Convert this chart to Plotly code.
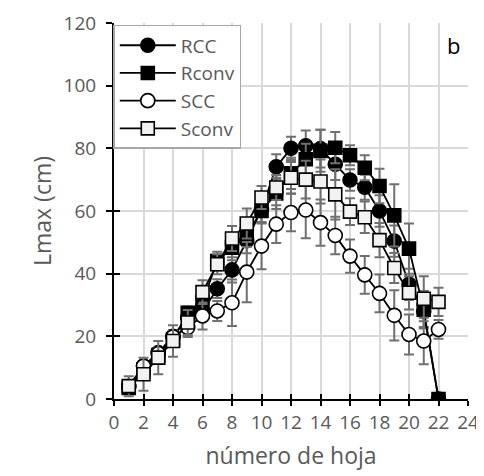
import plotly.graph_objects as go

leaf = list(range(1, 23))

rcc = [4, 10.5, 14.8, 20, 26, 28, 35.2, 41.2, 50.5, 60.5, 74.1, 80, 80.8, 79.9, 74.9, 69.9, 67.6, 60, 50.4, 36.6, 28, 0]
rcc_err = [1, 1, 1.5, 2, 2, 3, 3, 4, 4, 4, 4, 3.7, 4.9, 6, 5, 3.4, 4, 5, 5, 5, 5, 0]

rconv = [3.5, 9.5, 14, 19, 27.5, 31, 44, 48.3, 52.5, 60, 65.6, 72, 76.5, 79.2, 80.2, 77.8, 73.8, 68, 58.6, 48, 28.5, 0]
rconv_err = [1, 1, 2, 2, 2, 3, 3, 4, 4, 4, 5, 5, 5, 6.7, 5, 3.2, 4, 5.5, 9.9, 8, 6, 0]

scc = [4, 10.5, 14.5, 19.8, 22.8, 26.5, 28.1, 30.7, 40.5, 48.8, 55.8, 59.5, 60.3, 56.3, 52.2, 45.6, 39.6, 33.7, 26.7, 20.6, 18.5, 22.2]
scc_err = [1, 1.5, 2, 2, 3, 4.3, 3.2, 7.4, 9.6, 7.4, 6, 6, 9, 7.4, 6, 5.3, 6, 6, 8, 6.4, 7.4, 3]

sconv = [4.1, 7.9, 13.2, 18.5, 24.4, 34.1, 43, 51.2, 56, 64.3, 67.5, 70.6, 70, 69.4, 65.3, 59.8, 58, 50.7, 41.8, 33.9, 32, 31]
sconv_err = [3.2, 5.3, 5.3, 5, 4, 3.8, 3.2, 4, 4.8, 3.7, 4, 5, 6, 7, 8, 4.3, 5, 5.5, 4.8, 5.3, 7.2, 4.5]

x_ticks = list(range(0, 25, 2))
y_ticks = list(range(0, 121, 20))

series = [
    ("RCC", rcc, rcc_err, "circle", "black", 14),
    ("Rconv", rconv, rconv_err, "square", "black", 13),
    ("SCC", scc, scc_err, "circle", "white", 14),
    ("Sconv", sconv, sconv_err, "square", "#f2f2f2", 13),
]

fig = go.Figure()
for name, vals, err, sym, fill, size in series:
    fig.add_trace(go.Scatter(
        x=leaf, y=vals, name=name, mode="lines+markers",
        line=dict(color="black", width=1.8),
        marker=dict(symbol=sym, size=size, color=fill, line=dict(color="black", width=1.6)),
        error_y=dict(type="data", array=err, visible=True, color="#707070", thickness=2, width=5),
    ))

# overlay axes only to draw inward half of the crossing ticks
fig.add_trace(go.Scatter(x=[None], y=[None], xaxis="x2", yaxis="y2", showlegend=False, hoverinfo="skip"))

font_fam = "Open Sans"
fig.update_layout(
    width=484, height=476,
    margin=dict(l=106, r=24, t=15, b=85),
    plot_bgcolor="white", paper_bgcolor="white",
    font=dict(family=font_fam, size=19, color="#595959"),
    showlegend=True,
    legend=dict(x=-0.002, y=0.995, xanchor="left", yanchor="top",
                bgcolor="white", bordercolor="#a6a6a6", borderwidth=1.5,
                font=dict(size=19, color="#595959"), tracegroupgap=0,
                itemwidth=56),
    xaxis=dict(range=[0, 24], tickvals=x_ticks, ticks="outside", ticklen=5, tickwidth=1.5,
               tickcolor="black", showline=True, linecolor="black", linewidth=2,
               showgrid=True, gridcolor="#d9d9d9", gridwidth=1.5, zeroline=False,
               automargin=False, ticklabeloverflow="allow",
               title=dict(text="número de hoja", standoff=14)),
    yaxis=dict(range=[0, 120], tickvals=y_ticks, ticks="outside", ticklen=6, tickwidth=1.5,
               tickcolor="black", showline=True, linecolor="black", linewidth=2,
               showgrid=True, gridcolor="#d9d9d9", gridwidth=1.5, zeroline=False,
               ticklabelstandoff=6, automargin=False, ticklabeloverflow="allow",
               title=dict(text="Lmax (cm)", standoff=6)),
    xaxis2=dict(range=[0, 24], tickvals=x_ticks, ticks="inside", ticklen=5, tickwidth=1.5,
                tickcolor="black", showticklabels=False, showgrid=False, zeroline=False,
                showline=False, overlaying="x", anchor="y2", side="bottom", automargin=False),
    yaxis2=dict(range=[0, 120], tickvals=y_ticks, ticks="inside", ticklen=6, tickwidth=1.5,
                tickcolor="black", showticklabels=False, showgrid=False, zeroline=False,
                showline=False, overlaying="y", anchor="x2", side="left", automargin=False),
    annotations=[dict(x=23, y=113, xref="x", yref="y", text="b", showarrow=False,
                      font=dict(size=22, color="black", family=font_fam))],
)

fig.write_html("out.html")
